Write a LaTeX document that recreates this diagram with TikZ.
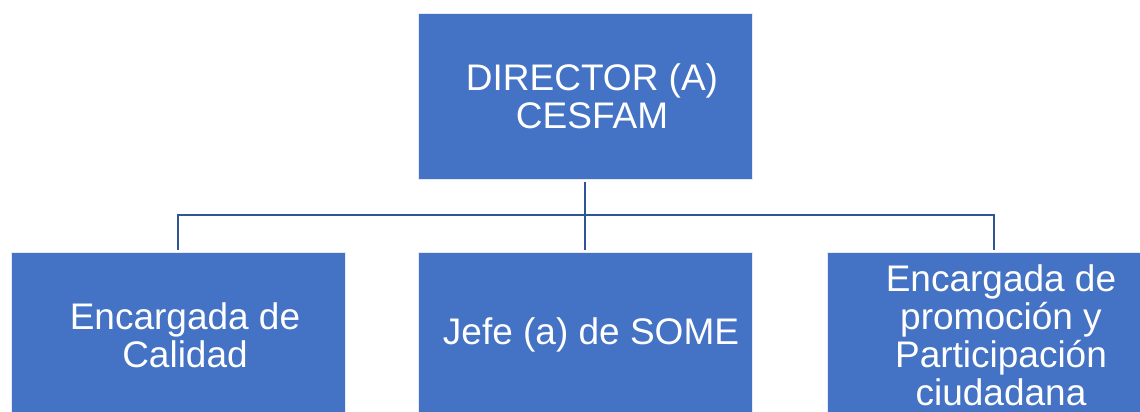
\documentclass[tikz,border=0pt]{standalone}
\usepackage{fontspec}
\setmainfont{Liberation Sans}
\definecolor{boxblue}{HTML}{4472C4}
\definecolor{linkblue}{HTML}{2F5597}
\begin{document}
\begin{tikzpicture}[x=1pt,y=-1pt,
  unit/.style={rectangle, fill=boxblue, draw=white!85!boxblue, line width=0.6pt,
               minimum width=334pt, minimum height=166pt, inner sep=0pt},
  caption/.style={text=white, align=center, inner sep=0pt,
                  font=\fontsize{37}{38}\selectfont},
  link/.style={draw=linkblue, line width=2.2pt}]
  \useasboundingbox (0,0) rectangle (1140,412);
  \clip (0,0) rectangle (1140,412);

  % boxes
  \node[unit] (dir)  at (585,96)  {};
  \node[unit] (cal)  at (178,335) {};
  \node[unit] (jefe) at (585,335) {};
  \node[unit] (prom) at (994,335) {};

  % box captions
  \node[caption] (dirT)  at ([xshift=7pt]dir.center)  {DIRECTOR (A)\\CESFAM};
  \node[caption] (calT)  at ([xshift=7pt]cal.center)  {Encargada de\\Calidad};
  \node[caption] (jefeT) at ([xshift=6pt]jefe.center) {Jefe (a) de SOME};
  \node[caption] (promT) at ([xshift=7pt]prom.center)
        {Encargada de\\promoción y\\Participación\\ciudadana};

  % connectors
  \coordinate (bus) at (585,215);
  \draw[link] ([yshift=-3pt]dir.south) -- ([yshift=2pt]jefe.north);
  \draw[link] ([yshift=2pt]cal.north) |- (bus) -| ([yshift=2pt]prom.north);
\end{tikzpicture}
\end{document}
